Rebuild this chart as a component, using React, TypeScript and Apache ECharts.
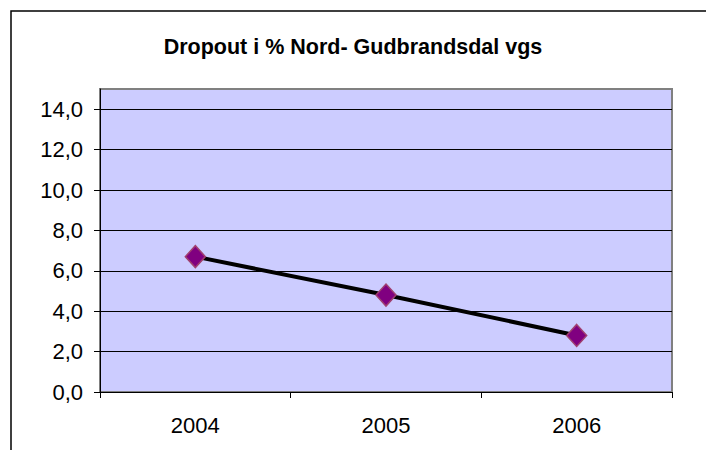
import React, { useEffect, useRef } from "react";
import * as echarts from "echarts";

const categories = ["2004", "2005", "2006"];
const dropoutValues = [6.7, 4.8, 2.8];
const yTicks = [0, 2, 4, 6, 8, 10, 12, 14];
const titleText = "Dropout i % Nord- Gudbrandsdal vgs";

export default function App() {
  const ref = useRef<HTMLDivElement>(null);
  useEffect(() => {
    if (!ref.current) return;
    const chart = echarts.init(ref.current, null, { renderer: "svg" });
    chart.setOption({
      animation: false,
      backgroundColor: "#ffffff",
      title: {
        text: titleText,
        left: "center",
        top: 31,
        textStyle: {
          fontFamily: "Liberation Sans, Arial, sans-serif",
          fontSize: 21.5,
          fontWeight: "bold",
          color: "#000",
        },
      },
      graphic: [
        {
          type: "rect",
          shape: { x: 11, y: 11, width: 760, height: 520 },
          style: { fill: "none", stroke: "#000", lineWidth: 1.5 },
          silent: true,
          z: -10,
        },
      ],
      grid: {
        left: 100,
        top: 89,
        right: 34,
        bottom: 58,
        show: true,
        backgroundColor: "#ccccff",
        borderColor: "#808080",
        borderWidth: 2,
      },
      xAxis: {
        type: "category",
        data: categories,
        boundaryGap: true,
        axisLine: { lineStyle: { color: "#000", width: 1 } },
        axisTick: { show: true, length: 6, inside: false, alignWithLabel: false, lineStyle: { color: "#000" } },
        axisLabel: {
          fontFamily: "Liberation Sans, Arial, sans-serif",
          fontSize: 22,
          color: "#000",
          margin: 22,
        },
        splitLine: { show: false },
      },
      yAxis: {
        type: "value",
        min: 0,
        max: 15,
        interval: 2,
        axisLine: { show: true, lineStyle: { color: "#000", width: 1 } },
        axisTick: { show: true, length: 6, customValues: yTicks, lineStyle: { color: "#000" } },
        axisLabel: {
          customValues: yTicks,
          fontFamily: "Liberation Sans, Arial, sans-serif",
          fontSize: 22,
          color: "#000",
          margin: 17,
          formatter: (v: number) => v.toFixed(1).replace(".", ","),
        },
        splitLine: { show: true, lineStyle: { color: "#000", width: 1 } },
      },
      series: [
        {
          type: "line",
          data: dropoutValues,
          symbol: "diamond",
          symbolSize: [20, 22],
          lineStyle: { color: "#000", width: 4 },
          itemStyle: { color: "#800080", borderColor: "#a0406e", borderWidth: 1.5 },
          z: 5,
        },
      ],
    });
    return () => chart.dispose();
  }, []);
  return (
    <div
      ref={ref}
      style={{ position: "fixed", left: 0, top: 0, width: 706, height: 450 }}
    />
  );
}
